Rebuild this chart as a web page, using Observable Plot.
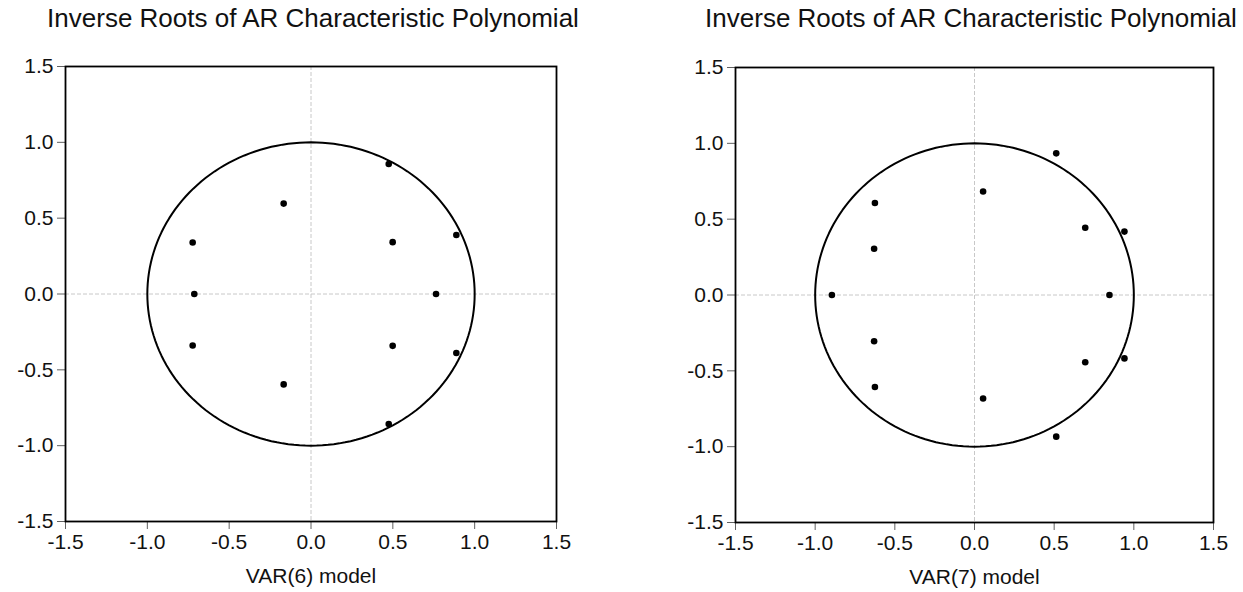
<!DOCTYPE html>
<html>
<head>
<meta charset="utf-8">
<script src="https://cdn.jsdelivr.net/npm/d3@7"></script>
<script src="https://cdn.jsdelivr.net/npm/@observablehq/plot@0.6"></script>
<style>
  html, body { margin: 0; padding: 0; background: #fff; }
  #wrap { position: relative; width: 1243px; height: 592px; overflow: hidden; font-family: "Liberation Sans", Arial, sans-serif; }
  .panel { position: absolute; top: 0; }
  .title { position: absolute; top: 3px; white-space: nowrap; font-size: 26px; color: #111; transform: translateX(-50%); }
</style>
</head>
<body>
<div id="wrap"></div>
<script>
// ---- data ----
const titleText = "Inverse Roots of AR Characteristic Polynomial";
const tickValues = [-1.5, -1.0, -0.5, 0.0, 0.5, 1.0, 1.5];
const tickLabels = ["-1.5", "-1.0", "-0.5", "0.0", "0.5", "1.0", "1.5"];

// VAR(6) inverse roots
const var6Re = [0.475, 0.475, -0.167, -0.167, -0.723, -0.723, 0.499, 0.499, 0.888, 0.888, -0.713, 0.764];
const var6Im = [0.857, -0.857, 0.596, -0.596, 0.340, -0.340, 0.342, -0.342, 0.389, -0.389, 0.000, 0.000];

// VAR(7) inverse roots
const var7Re = [0.513, 0.513, 0.054, 0.054, -0.625, -0.625, -0.630, -0.630, 0.695, 0.695, 0.941, 0.941, -0.895, 0.847];
const var7Im = [0.934, -0.934, 0.682, -0.682, 0.607, -0.607, 0.305, -0.305, 0.443, -0.443, 0.418, -0.418, 0.000, 0.000];

const panels = [
  {label: "VAR(6) model", re: var6Re, im: var6Im, left: 0, width: 620, mL: 65, mR: 64, mT: 66, mB: 71, titleX: 313},
  {label: "VAR(7) model", re: var7Re, im: var7Im, left: 620, width: 623, mL: 115, mR: 30, mT: 67, mB: 70, titleX: 971}
];

// unit circle reference curve
const circle = d3.range(0, 361, 2).map(a => ({x: Math.cos(a * Math.PI / 180), y: Math.sin(a * Math.PI / 180)}));

const wrap = document.getElementById("wrap");
for (const p of panels) {
  const pts = p.re.map((r, i) => ({x: r, y: p.im[i]}));
  const fmt = d => tickLabels[tickValues.findIndex(t => Math.abs(t - d) < 1e-9)];
  const chart = Plot.plot({
    width: p.width,
    height: 592,
    marginLeft: p.mL,
    marginRight: p.mR,
    marginTop: p.mT,
    marginBottom: p.mB,
    style: {fontFamily: "'Liberation Sans', Arial, sans-serif", fontSize: "21px", color: "#111", background: "#fff", overflow: "visible"},
    x: {domain: [-1.5, 1.5]},
    y: {domain: [-1.5, 1.5]},
    marks: [
      Plot.ruleX([0], {stroke: "#c8c8c8", strokeDasharray: "4,2", strokeWidth: 1}),
      Plot.ruleY([0], {stroke: "#c8c8c8", strokeDasharray: "4,2", strokeWidth: 1}),
      Plot.line(circle, {x: "x", y: "y", stroke: "#000", strokeWidth: 2, curve: "linear"}),
      Plot.dot(pts, {x: "x", y: "y", r: 3.3, fill: "#000", stroke: "none"}),
      Plot.axisX({ticks: tickValues, tickFormat: fmt, tickSize: 8, tickPadding: 5, stroke: "#606060",
        label: p.label, labelAnchor: "center", labelArrow: "none", labelOffset: 61, fontSize: 21}),
      Plot.axisY({ticks: tickValues, tickFormat: fmt, tickSize: 8, tickPadding: 4, stroke: "#606060", label: null, fontSize: 21}),
      Plot.frame({stroke: "#000", strokeWidth: 1.8})
    ]
  });
  chart.classList.add("panel");
  chart.style.left = p.left + "px";
  wrap.appendChild(chart);
  const t = document.createElement("div");
  t.className = "title";
  t.textContent = titleText;
  t.style.left = p.titleX + "px";
  wrap.appendChild(t);
}
</script>
</body>
</html>
